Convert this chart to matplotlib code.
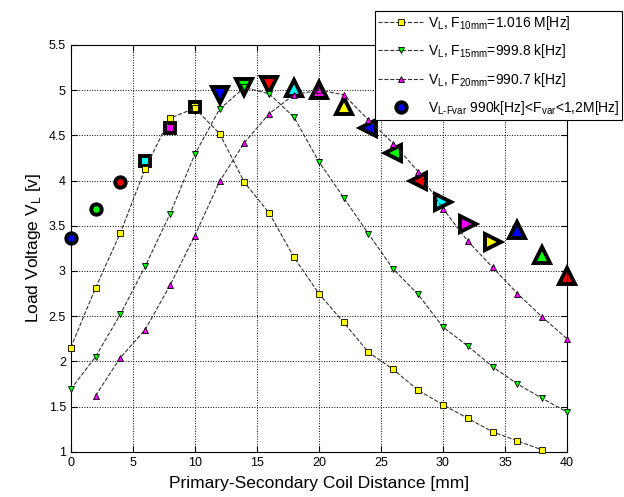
import numpy as np
import matplotlib
matplotlib.use('Agg')
import matplotlib.pyplot as plt

plt.rcParams['font.family'] = ['Liberation Sans', 'DejaVu Sans']
plt.rcParams['mathtext.fontset'] = 'custom'
plt.rcParams['mathtext.rm'] = 'Liberation Sans'

# 10 mm tuned frequency
x10 = [0, 2, 4, 6, 8, 10, 12, 14, 16, 18, 20, 22, 24, 26, 28, 30, 32, 34, 36, 38]
v10 = [2.15, 2.81, 3.42, 4.13, 4.69, 4.80, 4.52, 3.98, 3.64, 3.15, 2.75, 2.43,
       2.10, 1.91, 1.68, 1.52, 1.37, 1.22, 1.12, 1.02]
# 15 mm tuned frequency
x15 = [0, 2, 4, 6, 8, 10, 12, 14, 16, 18, 20, 22, 24, 26, 28, 30, 32, 34, 36, 38, 40]
v15 = [1.69, 2.05, 2.52, 3.05, 3.63, 4.29, 4.79, 5.03, 4.96, 4.70, 4.21, 3.81,
       3.41, 3.02, 2.74, 2.38, 2.17, 1.94, 1.75, 1.59, 1.44]
# 20 mm tuned frequency
x20 = [2, 4, 6, 8, 10, 12, 14, 16, 18, 20, 22, 24, 26, 28, 30, 32, 34, 36, 38, 40]
v20 = [1.62, 2.04, 2.35, 2.84, 3.39, 3.99, 4.42, 4.74, 4.95, 5.00, 4.95, 4.67,
       4.41, 4.10, 3.69, 3.33, 3.04, 2.75, 2.49, 2.25]
# variable frequency
xvar = [0, 2, 4, 6, 8, 10, 12, 14, 16, 18, 20, 22, 24, 26, 28, 30, 32, 34, 36, 38, 40]
vvar = [3.37, 3.68, 3.98, 4.22, 4.58, 4.81, 4.95, 5.03, 5.06, 5.02, 5.00, 4.82,
        4.58, 4.31, 3.99, 3.76, 3.52, 3.32, 3.45, 3.18, 2.94]
var_markers = ['o'] * 3 + ['s'] * 3 + ['v'] * 3 + ['^'] * 3 + ['<'] * 3 + ['>'] * 3 + ['^'] * 3
var_colors = ['#0000ff', '#00ff00', '#ff0000', '#00ffff', '#ff00ff', '#ffff00'] * 3 + \
             ['#0000ff', '#00ff00', '#ff0000']

fig = plt.figure(figsize=(6.24, 4.97), dpi=100)
ax = fig.add_axes([0.1133, 0.0911, 0.7954, 0.8184])

for xi, yi, m, c in zip(xvar, vvar, var_markers, var_colors):
    ms = 7.5 if m in ('o', 's') else 11
    ax.plot(xi, yi, marker=m, color=c, markersize=ms, markeredgecolor='k',
            markeredgewidth=2.8, linestyle='none', zorder=2, clip_on=False)

style = dict(linestyle='--', color='#333333', lw=0.8, markersize=4.5,
             markeredgecolor='k', markeredgewidth=0.6, zorder=3, clip_on=False)
l1, = ax.plot(x10, v10, marker='s', markerfacecolor='#ffff00',
              label=r'V$_\mathregular{L}$, F$_\mathregular{10mm}$=1.016 M[Hz]', **style)
l2, = ax.plot(x15, v15, marker='v', markerfacecolor='#00ff00',
              label=r'V$_\mathregular{L}$, F$_\mathregular{15mm}$=999.8 k[Hz]', **style)
l3, = ax.plot(x20, v20, marker='^', markerfacecolor='#ff00ff',
              label=r'V$_\mathregular{L}$, F$_\mathregular{20mm}$=990.7 k[Hz]', **style)
l4, = ax.plot([], [], linestyle='none', marker='o', markersize=7.5, color='#0000ff',
              markeredgecolor='k', markeredgewidth=2.8,
              label='V$_\\mathregular{L\u2010Fvar}$ 990k[Hz]<F$_\\mathregular{var}$<1,2M[Hz]')

ax.set_xlim(0, 40)
ax.set_ylim(1, 5.5)
ax.set_xticks(np.arange(0, 41, 5))
ax.set_yticks(np.arange(1, 5.51, 0.5))
ax.set_yticklabels(['1', '1.5', '2', '2.5', '3', '3.5', '4', '4.5', '5', '5.5'])
ax.tick_params(direction='in', top=True, right=True, labelsize=9, length=4)
ax.grid(True, linestyle=':', color='k', linewidth=0.7)
for s in ax.spines.values():
    s.set_linewidth(0.8)

ax.set_xlabel('Primary-Secondary Coil Distance [mm]', fontsize=12.5, labelpad=5)
ax.set_ylabel(r'Load Voltage V$_\mathregular{L}$ [v]', fontsize=12.5, labelpad=4)

leg = fig.legend(handles=[l1, l2, l3, l4], loc='upper right',
                 bbox_to_anchor=(622 / 624, 1 - 11 / 497), bbox_transform=fig.transFigure,
                 fancybox=False, framealpha=1, edgecolor='k', fontsize=10,
                 handlelength=3.3, borderpad=0.2, labelspacing=0.75, handletextpad=0.3,
                 borderaxespad=0)
leg.get_frame().set_linewidth(0.8)

fig.savefig('out.png', dpi=100)
